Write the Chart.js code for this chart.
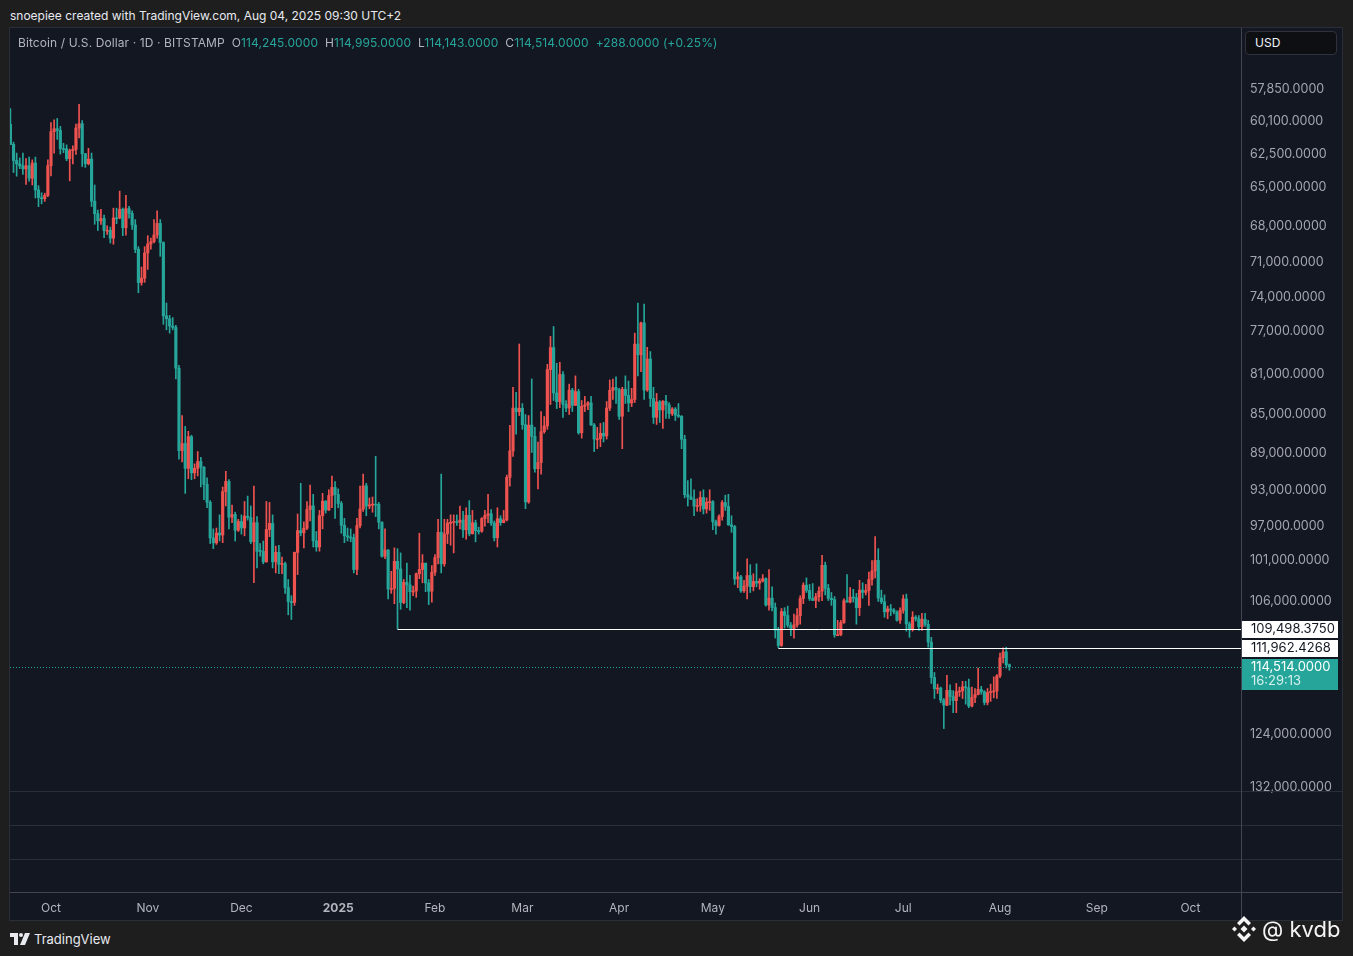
<!DOCTYPE html>
<html>
<head>
<meta charset="utf-8">
<script src="https://cdn.jsdelivr.net/npm/chart.js@4.4.1/dist/chart.umd.min.js"></script>
<style>
html, body { margin: 0; padding: 0; width: 1353px; height: 956px; overflow: hidden; background: #1e1e1e; font-family: Inter, "Noto Sans", sans-serif; }
#head { position: absolute; left: 10px; top: 8px; font-size: 12px; color: #e8eaf0; }
#pane { position: absolute; left: 10px; top: 28px; width: 1332px; height: 892px; background: #131722; }
#frame { position: absolute; left: 9px; top: 27px; width: 1332px; height: 892px; border: 1px solid #2a2e39; pointer-events: none; }
#legend { position: absolute; left: 18px; top: 35px; font-size: 12px; letter-spacing: 0.1px; color: #b2b5be; white-space: pre; }
#legend .v { color: #26a69a; }
#usd { position: absolute; left: 1245px; top: 31px; width: 92px; height: 24px; background: #0e0f12; border: 1px solid #2f323b; border-radius: 4px; box-sizing: border-box; color: #f0f3fa; font-size: 12px; line-height: 22px; padding-left: 9px; }
#foot { position: absolute; left: 10px; top: 931px; font-size: 13px; color: #e8eaf0; display: flex; align-items: center; }
#foot svg { margin-right: 4px; }
#mark { position: absolute; left: 1231px; top: 915px; display: flex; align-items: center; color: #f5f5f5; font-size: 22px; }
#mark svg { margin-right: 5px; }
</style>
</head>
<body>
<div id="head">snoepiee created with TradingView.com, Aug 04, 2025 09:30 UTC+2</div>
<div id="pane"><canvas id="chart"></canvas></div>
<div id="frame"></div>
<div id="legend">Bitcoin / U.S. Dollar · 1D · BITSTAMP  O<span class="v">114,245.0000</span>  H<span class="v">114,995.0000</span>  L<span class="v">114,143.0000</span>  C<span class="v">114,514.0000</span>  <span class="v">+288.0000 (+0.25%)</span></div>
<div id="usd">USD</div>
<div id="foot">
  <svg width="20" height="12" viewBox="0 0 20 12"><path d="M0 0h8v12H4V4H0z" fill="#e8eaf0"/><circle cx="11" cy="2" r="2" fill="#e8eaf0"/><path d="M15 0h5l-5 12h-5z" fill="#e8eaf0"/></svg>TradingView
</div>
<div id="mark">
  <svg width="26" height="28" viewBox="0 0 26 28" fill="#f5f5f5">
    <path d="M13 1l7 7-2.5 2.5L13 6l-4.5 4.5L6 8z"/>
    <path d="M13 27l7-7-2.5-2.5L13 22l-4.5-4.5L6 20z"/>
    <path d="M13 10.5l3.5 3.5-3.5 3.5-3.5-3.5z"/>
    <path d="M3.5 11.5l2.5 2.5-2.5 2.5L1 14z"/>
    <path d="M22.5 11.5l2.5 2.5-2.5 2.5L20 14z"/>
  </svg>@ kvdb
</div>
<script>
// BTC/USD daily candles, Bitstamp, 2024-09-18 .. 2025-08-04, values in thousands of USD
const firstOpen = 60.31;
const closes = [
  // Sep 18-30
  61.76,62.95,63.2,63.35,63.58,63.34,64.28,63.14,65.18,65.77,65.86,65.6,63.33,
  // Oct
  60.84,60.63,60.75,62.07,62.09,62.82,62.22,62.13,60.58,60.27,62.45,63.19,62.85,66.05,67.04,67.61,
  67.42,68.37,68.36,69.0,67.37,67.38,66.68,68.16,66.64,67.01,67.93,69.91,72.72,72.34,70.22,
  // Nov
  69.48,69.29,68.74,67.81,69.36,75.64,75.9,76.55,76.68,80.47,88.7,87.96,90.58,87.25,91.07,
  90.58,89.85,90.46,92.31,94.29,98.34,98.92,97.78,98.01,93.1,91.99,95.96,95.65,97.46,96.45,
  // Dec
  97.19,95.84,96.0,98.77,96.59,99.92,99.92,101.17,97.37,96.67,101.17,100.04,101.46,101.37,104.3,
  106.03,106.14,100.04,97.49,97.76,97.22,95.1,94.69,98.68,99.4,95.79,94.16,95.16,93.53,92.64,93.43,
  // Jan
  94.42,96.89,98.1,98.24,98.31,102.08,96.92,95.04,92.48,94.7,94.57,94.49,94.52,96.53,100.5,
  99.76,104.46,104.4,101.1,102.02,106.15,103.65,103.96,104.8,104.71,102.6,102.08,101.33,103.73,104.74,102.41,
  // Feb
  100.66,97.69,101.4,97.87,96.62,96.55,96.45,96.55,96.3,97.4,95.75,97.86,96.6,97.5,
  97.57,96.12,95.76,95.57,96.63,98.33,96.13,96.58,96.27,91.55,88.74,84.35,84.71,84.37,
  // Mar
  86.03,94.25,86.07,87.22,90.62,89.96,86.74,86.15,80.6,78.53,82.86,83.72,81.07,83.97,84.34,
  82.58,84.08,82.72,86.85,84.17,84.04,83.83,86.05,87.5,87.47,86.9,87.18,84.35,82.6,82.33,82.55,
  // Apr
  85.17,82.49,83.1,83.84,83.5,78.21,79.2,76.27,82.57,79.6,83.4,85.28,83.74,84.54,83.67,
  84.03,84.9,84.45,85.06,85.17,87.52,93.44,93.69,93.94,94.72,94.65,93.75,95.03,94.28,94.21,
  // May
  96.49,96.91,95.89,94.32,94.75,96.83,97.03,103.24,102.97,104.69,104.11,102.81,104.17,103.54,103.74,
  103.49,103.19,106.45,105.6,106.79,109.68,111.67,107.29,107.79,109.04,109.44,108.99,107.8,105.64,103.99,104.64,
  // Jun
  105.65,105.88,105.43,104.73,101.58,104.39,105.62,105.79,110.29,110.26,108.69,105.93,106.09,105.47,105.55,
  106.79,104.6,104.88,104.66,103.3,102.26,100.99,105.58,106.05,107.32,106.95,107.09,107.33,108.39,107.14,
  // Jul
  105.7,108.86,109.58,108.0,108.22,109.22,108.26,108.92,111.23,115.99,117.52,117.44,119.12,119.84,117.75,
  118.63,119.2,117.92,117.84,117.27,117.4,119.96,118.76,118.34,117.63,117.95,119.45,118.06,117.92,117.84,115.76,
  // Aug 1-4
  113.3,112.53,114.245,114.514
];
const highs = [
  61.79,63.85,64.13,63.56,64.0,64.75,64.5,64.8,65.8,66.48,66.26,66.07,65.7,
  64.1,62.4,61.4,62.48,62.37,62.97,64.48,63.2,62.5,61.3,63.4,63.47,63.28,66.47,67.88,68.38,
  67.9,68.97,68.7,69.4,69.5,67.83,67.44,68.8,68.75,67.4,68.3,70.2,73.6,72.95,72.7,
  71.6,69.9,69.4,69.0,70.5,76.4,76.9,77.2,76.9,81.5,89.6,89.9,93.3,91.7,91.8,
  91.7,91.4,92.6,94.0,94.9,99.0,99.6,99.1,98.7,98.9,94.7,97.3,96.6,98.7,97.6,
  97.9,98.1,96.3,99.0,103.7,101.9,100.5,101.4,101.2,98.2,101.9,102.5,102.6,102.6,105.0,
  107.7,108.3,106.5,102.7,98.1,99.5,97.4,96.4,99.4,99.9,99.9,97.3,95.5,95.2,94.9,96.1,
  94.9,97.8,98.9,98.7,98.8,102.5,102.7,97.2,95.3,95.8,95.0,95.4,95.9,97.3,100.6,
  100.8,105.7,105.0,106.3,109.498,107.0,106.3,106.8,107.1,105.3,105.5,103.2,103.7,104.8,106.4,106.1,
  102.8,101.4,102.5,101.7,99.0,99.2,100.1,96.9,97.3,98.3,98.5,98.1,97.9,98.8,
  97.9,97.7,97.0,96.6,96.9,98.7,99.4,96.9,96.6,96.4,92.5,89.3,87.0,85.1,
  86.5,95.0,94.4,88.9,91.0,92.8,91.2,86.9,86.5,84.0,83.6,84.4,84.3,85.3,84.7,
  85.0,84.7,84.1,87.0,87.4,84.7,84.5,86.1,88.8,88.5,88.3,87.8,87.5,84.6,83.5,83.9,
  85.5,88.5,83.9,84.7,84.2,83.8,81.2,80.8,83.5,82.7,84.2,85.9,86.0,85.8,86.4,
  85.4,85.4,85.1,85.6,85.3,88.5,93.8,94.7,94.0,95.8,95.3,95.3,95.6,95.5,95.2,
  97.4,97.9,97.0,96.3,95.2,96.9,97.7,103.9,104.3,104.9,104.9,105.7,104.9,104.7,104.2,
  104.5,103.6,106.6,107.1,107.2,110.7,111.962,111.8,109.4,109.3,110.4,110.7,109.3,108.9,106.3,104.9,
  105.9,105.9,106.8,106.0,105.9,105.2,105.9,106.5,110.6,110.4,110.4,108.8,106.1,106.2,106.1,
  108.9,107.8,105.6,105.2,106.5,104.0,103.1,106.0,106.3,108.0,108.2,107.8,107.6,108.5,108.8,
  107.5,109.8,110.6,109.8,108.5,109.7,109.7,109.2,111.9,116.8,118.9,118.2,119.5,123.2,119.9,
  119.8,120.9,120.9,118.6,118.9,119.7,120.2,120.1,119.5,118.4,118.3,119.8,119.8,119.3,118.8,118.9,
  116.0,114.0,114.7,114.995
];
const lows = [
  59.2,61.6,62.4,62.76,62.4,62.8,62.7,62.9,62.7,64.85,65.4,65.43,62.9,
  60.2,59.99,59.9,60.46,61.68,61.8,62.1,61.86,60.3,58.9,60.05,62.42,62.05,62.4,64.8,66.75,
  66.7,67.15,68.0,68.1,66.6,66.6,65.27,66.58,65.6,66.45,66.8,67.5,69.7,71.4,69.7,
  68.8,69.0,67.5,66.8,67.5,69.3,74.5,75.6,75.8,76.5,80.2,85.1,86.2,86.7,87.1,
  90.1,88.8,89.4,90.4,91.6,94.1,97.3,97.2,95.7,92.6,90.9,91.8,94.6,95.4,96.2,
  95.7,94.2,93.6,94.7,92.5,95.9,99.0,98.7,94.2,94.3,95.7,99.3,99.2,100.6,101.2,
  103.3,105.3,100.0,95.6,92.2,96.5,94.2,92.4,93.4,97.6,95.2,93.3,94.1,92.9,91.4,92.0,
  92.8,94.2,96.1,97.2,97.3,97.9,96.1,92.5,91.2,92.2,93.8,93.7,89.3,94.3,96.5,
  97.3,99.7,102.3,99.5,99.6,100.1,103.3,101.3,102.8,104.1,102.5,97.8,100.3,101.3,103.3,101.6,
  100.3,96.2,91.2,96.2,96.2,95.7,95.7,95.7,94.7,95.3,94.9,94.1,95.2,96.3,
  97.1,96.0,95.2,93.4,95.1,96.4,94.9,95.8,95.2,91.3,86.1,82.3,82.8,78.2,
  83.9,85.0,85.1,81.5,86.3,87.8,84.7,85.2,80.1,77.5,76.6,80.0,79.9,80.8,83.6,
  82.0,82.4,81.2,82.5,83.6,83.2,83.7,83.2,85.9,86.3,85.9,85.8,83.7,81.6,81.5,81.3,
  82.4,82.3,81.2,81.7,82.4,77.2,74.5,76.2,74.6,78.5,78.9,82.3,82.9,83.6,83.6,
  83.1,83.8,84.3,84.3,83.9,85.1,87.1,91.9,91.7,92.9,93.9,93.1,92.9,93.8,92.9,
  94.1,96.3,95.7,94.1,93.5,93.4,95.8,96.9,102.4,102.8,103.4,100.8,101.5,102.6,101.4,
  103.2,102.7,103.1,102.1,104.2,106.2,109.3,106.9,106.8,106.6,108.7,107.6,106.9,105.3,103.7,103.1,
  103.9,103.8,105.0,104.2,100.4,101.2,103.9,104.9,105.4,108.4,108.4,105.7,102.7,104.3,104.5,
  105.0,103.4,103.7,103.9,102.4,101.0,98.2,99.6,104.6,105.2,106.6,106.4,106.9,107.2,106.8,
  105.2,105.1,108.6,107.3,107.8,107.8,107.5,107.5,108.4,110.6,115.3,116.9,117.3,118.9,115.7,
  117.0,117.8,116.8,117.3,116.5,116.5,116.2,117.3,117.5,114.7,117.2,117.8,117.5,116.9,115.9,115.6,
  112.7,112.0,111.9,114.143
];
const opens = [firstOpen].concat(closes.slice(0, -1));

// x positions: day number counted from 2024-09-18
const days = closes.map((c, i) => i);
const monthTicks = [13, 44, 74, 105, 136, 164, 195, 225, 256, 286, 317, 348, 378];
const monthLabels = ['Oct', 'Nov', 'Dec', '2025', 'Feb', 'Mar', 'Apr', 'May', 'Jun', 'Jul', 'Aug', 'Sep', 'Oct'];
const priceTicks = [57.85, 60.1, 62.5, 65, 68, 71, 74, 77, 81, 85, 89, 93, 97, 101, 106, 124, 132];

// horizontal rays: price (thousands) and the day they start on
const rayPrices = [109.498375, 111.9624268];
const rayStartDays = [124, 246];
const rayLabels = ['109,498.3750', '111,962.4268'];
const lastLabel = '114,514.0000';
const countdown = '16:29:13';

const UP = '#26a69a';
const DOWN = '#ef5350';
const candleColors = days.map(i => closes[i] >= opens[i] ? UP : DOWN);
const FONT = 'Inter, "Noto Sans", sans-serif';

const paneDecor = {
  id: 'paneDecor',
  afterDraw(chart) {
    const { ctx, chartArea, scales } = chart;
    const x = scales.x, y = scales.y;
    const w = chart.width, h = chart.height;
    ctx.save();

    // empty sub-pane separators and axis borders
    ctx.lineWidth = 1;
    ctx.strokeStyle = '#2a2e39';
    [763.5, 797.5, 831.5].forEach(yy => {
      ctx.beginPath(); ctx.moveTo(0, yy); ctx.lineTo(w, yy); ctx.stroke();
    });
    ctx.strokeStyle = '#434651';
    ctx.beginPath(); ctx.moveTo(0, chartArea.bottom + 0.5); ctx.lineTo(w, chartArea.bottom + 0.5); ctx.stroke();
    ctx.beginPath(); ctx.moveTo(chartArea.right + 0.5, 0); ctx.lineTo(chartArea.right + 0.5, h); ctx.stroke();

    // last price dotted line
    const last = closes[closes.length - 1];
    const ly = Math.round(y.getPixelForValue(last)) + 0.5;
    ctx.strokeStyle = UP;
    ctx.setLineDash([1, 2]);
    ctx.beginPath(); ctx.moveTo(chartArea.left, ly); ctx.lineTo(chartArea.right, ly); ctx.stroke();
    ctx.setLineDash([]);

    // rays
    ctx.strokeStyle = '#ffffff';
    rayPrices.forEach((p, k) => {
      const ry = Math.round(y.getPixelForValue(p)) + 0.5;
      ctx.beginPath(); ctx.moveTo(x.getPixelForValue(rayStartDays[k]), ry); ctx.lineTo(chartArea.right, ry); ctx.stroke();
    });

    // price labels on the axis
    const bx = chartArea.right + 1, bw = 96;
    ctx.font = '13px ' + FONT;
    ctx.textBaseline = 'middle';
    rayPrices.forEach((p, k) => {
      const ry = Math.round(y.getPixelForValue(p));
      ctx.fillStyle = '#ffffff';
      ctx.fillRect(bx, ry - 8, bw, 17);
      ctx.fillStyle = '#131722';
      ctx.fillText(rayLabels[k], bx + 9, ry + 0.5);
    });
    const cy = Math.round(y.getPixelForValue(last));
    ctx.fillStyle = UP;
    ctx.fillRect(bx, cy - 8, bw, 31);
    ctx.fillStyle = '#ffffff';
    ctx.fillText(lastLabel, bx + 9, cy + 0.5);
    ctx.fillStyle = '#d4f0ec';
    ctx.fillText(countdown, bx + 9, cy + 14.5);
    ctx.restore();
  }
};

new Chart(document.getElementById('chart'), {
  type: 'bar',
  data: {
    datasets: [
      {
        label: 'wick',
        data: days.map(i => ({ x: i, y: [lows[i], highs[i]] })),
        backgroundColor: candleColors,
        barThickness: 1,
        grouped: false,
        order: 2
      },
      {
        label: 'body',
        data: days.map(i => ({ x: i, y: [opens[i], closes[i]] })),
        backgroundColor: candleColors,
        barThickness: 2.5,
        minBarLength: 1,
        grouped: false,
        order: 1
      }
    ]
  },
  options: {
    responsive: true,
    maintainAspectRatio: false,
    animation: false,
    layout: { padding: 0 },
    plugins: { legend: { display: false }, tooltip: { enabled: false } },
    scales: {
      x: {
        type: 'linear',
        offset: false,
        min: -0.13,
        max: 394.2,
        grid: { display: false, drawTicks: false, offset: false },
        border: { display: false },
        afterFit: s => { s.height = 28; s.paddingLeft = 0; s.paddingRight = 0; },
        afterBuildTicks: s => { s.ticks = monthTicks.map(v => ({ value: v })); },
        ticks: {
          autoSkip: false,
          maxRotation: 0,
          padding: 9,
          color: '#b2b5be',
          font: ctx => ({ family: FONT, size: 12, weight: ctx.index === 3 ? 'bold' : 'normal' }),
          callback: (v, i) => monthLabels[i]
        }
      },
      y: {
        type: 'logarithmic',
        position: 'right',
        reverse: true,
        min: 53.825,
        max: 149.455,
        grid: { display: false, drawTicks: false },
        border: { display: false },
        afterFit: s => { s.width = 101; s.paddingTop = 0; s.paddingBottom = 0; },
        afterBuildTicks: s => { s.ticks = priceTicks.map(v => ({ value: v })); },
        ticks: {
          padding: 9,
          color: '#a3a6af',
          font: { family: FONT, size: 12.5 },
          callback: v => (v * 1000).toLocaleString('en-US', { minimumFractionDigits: 4, maximumFractionDigits: 4 })
        }
      }
    }
  },
  plugins: [paneDecor]
});
</script>
</body>
</html>
